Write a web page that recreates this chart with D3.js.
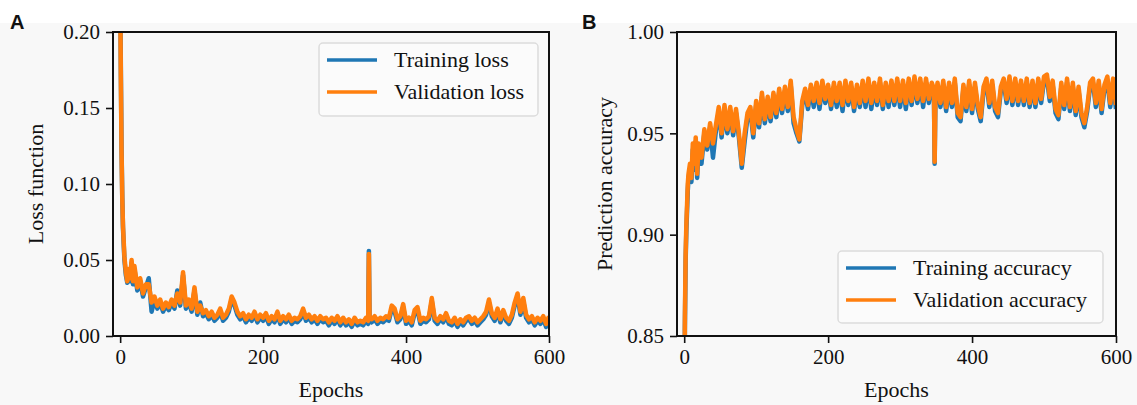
<!DOCTYPE html>
<html lang="en">
<head>
    <meta charset="UTF-8">
    <title>Loss and accuracy curves</title>
    <script src="https://cdn.jsdelivr.net/npm/d3@7"></script>
    <style>
        body { margin: 0; background: #f8f8f8; }
        text { font-family: "Liberation Serif", "Times New Roman", serif; fill: #111; }
        .panel-letter { font-family: "Liberation Sans", Arial, sans-serif; font-weight: bold; font-size: 20px; }
    </style>
</head>
<body>
<div id="chart-space"></div>
<script>
    var epochs = [0, 1, 2, 3, 4, 5, 6, 8, 10, 12, 14, 16, 18, 20]
        .concat(d3.range(24, 345, 4), [347, 348, 349], d3.range(352, 601, 4));

    var valLoss = [0.23, 0.17, 0.12, 0.09, 0.072, 0.062, 0.052, 0.042, 0.036, 0.044, 0.038, 0.050, 0.036, 0.046,
        .032, .038, .028, .034, .034, .022, .026, .020, .024, .018,
        .022, .019, .024, .020, .028, .022, .042, .020, .024, .018,
        .032, .016, .020, .015, .017, .013, .016, .012, .014, .018,
        .012, .014, .018, .026, .022, .016, .013, .015, .011, .014,
        .012, .016, .011, .014, .012, .015, .010, .013, .011, .016,
        .010, .013, .011, .014, .010, .012, .011, .013, .018, .012,
        .014, .011, .013, .010, .013, .011, .012, .009, .012, .010,
        .013, .009, .012, .009, .011, .008, .012, .009, .010, .009,
        .012,
        .010, .054, .012,
        .011, .013, .010, .012, .011, .013, .012, .020, .018, .011,
        .013, .021, .010, .012, .009, .017, .019, .010, .012, .011,
        .013, .025, .012, .010, .013, .011, .015, .010, .009, .012,
        .008, .011, .009, .012, .013, .010, .012, .009, .011, .013,
        .016, .024, .015, .012, .018, .011, .017, .012, .010, .014,
        .022, .028, .016, .025, .014, .011, .013, .009, .012, .010,
        .013, .008, .013];

    var trainLoss = [0.24, 0.175, 0.122, 0.091, 0.071, 0.060, 0.050, 0.040, 0.035, 0.042, 0.036, 0.048, 0.034, 0.044,
        .030, .036, .026, .032, .038, .016, .024, .018, .022, .016,
        .020, .017, .022, .018, .030, .020, .040, .018, .022, .016,
        .030, .014, .022, .013, .015, .011, .014, .010, .012, .016,
        .010, .012, .016, .024, .020, .014, .011, .013, .009, .012,
        .010, .014, .009, .012, .010, .013, .008, .011, .009, .014,
        .008, .011, .009, .012, .008, .010, .009, .011, .016, .010,
        .012, .009, .011, .008, .011, .009, .010, .007, .010, .008,
        .011, .007, .010, .007, .009, .006, .010, .007, .008, .007,
        .010,
        .008, .056, .010,
        .009, .011, .008, .010, .009, .011, .010, .018, .016, .009,
        .011, .019, .008, .010, .007, .015, .017, .008, .010, .009,
        .011, .023, .010, .008, .011, .009, .013, .008, .007, .010,
        .006, .009, .007, .010, .011, .008, .010, .007, .009, .011,
        .014, .022, .013, .010, .016, .009, .015, .010, .008, .012,
        .020, .026, .014, .023, .012, .009, .011, .007, .010, .008,
        .011, .006, .011];

    var valAcc = [0.80, 0.86, 0.89, 0.905, 0.915, 0.925, 0.93, 0.935, 0.928, 0.945, 0.935, 0.948, 0.93, 0.945,
        .938, .952, .944, .955, .945, .954, .963, .950, .964, .952,
        .963, .951, .962, .950, .935, .950, .960, .963, .950, .966,
        .955, .970, .957, .968, .958, .970, .960, .972, .962, .973,
        .963, .976, .958, .952, .947, .966, .972, .964, .974, .966,
        .975, .965, .976, .967, .974, .964, .975, .966, .975, .964,
        .976, .966, .975, .963, .974, .965, .976, .966, .977, .965,
        .975, .966, .977, .964, .975, .966, .976, .966, .977, .966,
        .976, .965, .977, .966, .978, .967, .977, .966, .977, .967,
        .975,
        .972, .936, .966,
        .975, .965, .976, .963, .975, .965, .977, .960, .958, .974,
        .963, .976, .962, .975, .964, .958, .973, .977, .965, .976,
        .963, .960, .973, .977, .967, .978, .966, .977, .966, .976,
        .966, .977, .965, .976, .965, .977, .967, .978, .979, .968,
        .976, .962, .959, .975, .964, .977, .963, .975, .961, .973,
        .960, .955, .963, .975, .977, .965, .976, .962, .974, .978,
        .965, .977, .964];

    var trainAcc = [0.79, 0.855, 0.887, 0.902, 0.912, 0.922, 0.928, 0.932, 0.926, 0.942, 0.932, 0.946, 0.928, 0.943,
        .935, .950, .942, .953, .938, .951, .961, .948, .962, .950,
        .961, .949, .960, .948, .933, .946, .958, .961, .948, .964,
        .953, .968, .955, .965, .956, .968, .958, .970, .960, .971,
        .961, .974, .955, .950, .946, .964, .970, .962, .972, .963,
        .973, .962, .974, .965, .972, .962, .973, .963, .973, .961,
        .974, .964, .973, .961, .972, .963, .974, .963, .975, .962,
        .973, .964, .975, .962, .973, .963, .974, .964, .975, .963,
        .974, .962, .975, .964, .976, .965, .975, .963, .975, .965,
        .973,
        .970, .935, .964,
        .973, .963, .974, .961, .973, .963, .975, .958, .956, .972,
        .961, .974, .960, .973, .962, .956, .971, .975, .963, .974,
        .961, .958, .971, .975, .965, .976, .964, .975, .964, .974,
        .964, .975, .963, .974, .963, .975, .965, .976, .977, .966,
        .974, .960, .957, .973, .962, .975, .961, .973, .959, .971,
        .958, .953, .961, .973, .975, .963, .974, .960, .972, .976,
        .963, .975, .962];

    var epochTicks = [0, 200, 400, 600];
    var lossTicks = [0, 0.05, 0.10, 0.15, 0.20];
    var accTicks = [0.85, 0.90, 0.95, 1.00];

    console.log(epochs.length, valLoss.length, trainLoss.length, valAcc.length, trainAcc.length);

    var width = 1137, height = 405;
    var blue = "#1f77b4", orange = "#ff7f0e";
    var serif = "'Liberation Serif', 'Times New Roman', serif";

    var svg = d3.select("#chart-space").append("svg")
        .attr("width", width).attr("height", height);

    svg.append("rect").attr("width", width).attr("height", 23).attr("fill", "#ffffff");

    function drawPanel(opts) {
        var x = d3.scaleLinear().domain([-10, 600]).range([opts.left, opts.right]);
        var y = d3.scaleLinear().domain(opts.yDomain).range([336, 32]);

        var g = svg.append("g");

        g.append("clipPath").attr("id", opts.id + "-clip")
            .append("rect")
            .attr("x", opts.left).attr("y", 32)
            .attr("width", opts.right - opts.left).attr("height", 304);

        var line = function(vals) {
            return d3.line()
                .x(function(d, i) { return x(epochs[i]); })
                .y(function(d) { return y(d); })(vals);
        };

        g.append("path").attr("d", line(opts.train))
            .attr("fill", "none").attr("stroke", blue).attr("stroke-width", 4.5)
            .attr("stroke-linejoin", "round")
            .attr("clip-path", "url(#" + opts.id + "-clip)");
        g.append("path").attr("d", line(opts.val))
            .attr("fill", "none").attr("stroke", orange).attr("stroke-width", 4.5)
            .attr("stroke-linejoin", "round")
            .attr("clip-path", "url(#" + opts.id + "-clip)");

        // axes
        var xAxis = g.append("g")
            .attr("transform", "translate(0,336)")
            .call(d3.axisBottom(x).tickValues(epochTicks).tickSize(7).tickPadding(6).tickFormat(d3.format("d")));

        var yAxis = g.append("g")
            .attr("transform", "translate(" + opts.left + ",0)")
            .call(d3.axisLeft(y).tickValues(opts.yTicks).tickSize(7).tickPadding(6).tickFormat(d3.format(".2f")));

        [xAxis, yAxis].forEach(function(a) {
            a.attr("font-family", serif).attr("font-size", 21);
            a.select(".domain").remove();
            a.selectAll("line").attr("stroke", "#111").attr("stroke-width", 1.6);
            a.selectAll("text").style("font-family", serif).style("font-size", "21px").attr("fill", "#111");
        });

        // frame
        g.append("rect")
            .attr("x", opts.left).attr("y", 32)
            .attr("width", opts.right - opts.left).attr("height", 304)
            .attr("fill", "none").attr("stroke", "#111").attr("stroke-width", 2);

        g.append("text").attr("x", (opts.left + opts.right) / 2).attr("y", 397)
            .attr("text-anchor", "middle").style("font-size", "22px").text("Epochs");

        g.append("text")
            .attr("transform", "translate(" + opts.titleX + ",184) rotate(-90)")
            .attr("text-anchor", "middle").style("font-size", "22px").text(opts.yTitle);

        g.append("text").attr("class", "panel-letter")
            .attr("x", opts.letterX).attr("y", 29).text(opts.letter);

        // legend
        var lg = opts.legend;
        g.append("rect")
            .attr("x", lg.x).attr("y", lg.y).attr("width", lg.w).attr("height", lg.h)
            .attr("rx", 4).attr("fill", "#fbfbfb").attr("stroke", "#dcdcdc").attr("stroke-width", 1.5);
        [[blue, lg.labels[0]], [orange, lg.labels[1]]].forEach(function(item, i) {
            var ly = lg.y + 17 + i * 32;
            g.append("line").attr("x1", lg.x + 8).attr("x2", lg.x + 58)
                .attr("y1", ly).attr("y2", ly)
                .attr("stroke", item[0]).attr("stroke-width", 3.5);
            g.append("text").attr("x", lg.x + 75).attr("y", ly + 7)
                .style("font-size", "22px").text(item[1]);
        });
    }

    drawPanel({
        id: "loss", left: 113, right: 549, yDomain: [0, 0.20], yTicks: lossTicks,
        train: trainLoss, val: valLoss, yTitle: "Loss function", titleX: 43,
        letter: "A", letterX: 10,
        legend: {x: 319, y: 43, w: 219, h: 73, labels: ["Training loss", "Validation loss"]}
    });

    drawPanel({
        id: "acc", left: 677, right: 1116, yDomain: [0.85, 1.00], yTicks: accTicks,
        train: trainAcc, val: valAcc, yTitle: "Prediction accuracy", titleX: 612,
        letter: "B", letterX: 582,
        legend: {x: 838, y: 251, w: 265, h: 72, labels: ["Training accuracy", "Validation accuracy"]}
    });
</script>
</body>
</html>
